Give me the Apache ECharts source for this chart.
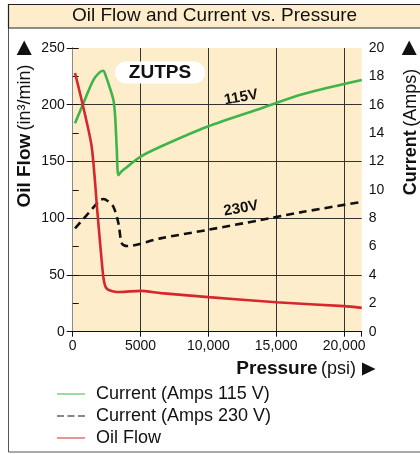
<!DOCTYPE html>
<html>
<head>
<meta charset="utf-8">
<script src="https://cdn.jsdelivr.net/npm/echarts@6/dist/echarts.min.js"></script>
<style>
html,body{margin:0;padding:0;background:#fff;}
#c{width:420px;height:454px;}
</style>
</head>
<body>
<div id="c"></div>
<script>
// ---- Data ----
const xTicks = [0, 5000, 10000, 15000, 20000];
const xTickLabels = ['0', '5000', '10,000', '15,000', '20,000'];
const flowTicks = [0, 50, 100, 150, 200, 250];
const ampTicks = [0, 2, 4, 6, 8, 10, 12, 14, 16, 18, 20];

const seriesNames = ['Current (Amps 115 V)', 'Current (Amps 230 V)', 'Oil Flow'];

// Oil flow (in3/min) vs pressure (psi)
const oilP    = [170, 740, 1400, 1830, 2140, 2260, 2400, 2600, 3000, 3500, 5000, 6500, 10000, 15000, 20000, 21300];
const oilFlow = [228, 200, 163, 104, 62, 48, 40, 37, 35.5, 35, 36, 34, 30.5, 26, 22.5, 21];

// Current 115 V (Amps)
const a115P = [170, 785, 1520, 2000, 2260, 2450, 2630, 3000, 3130, 3250, 3370, 3600, 3990, 4980, 6460, 9910, 13850, 17000, 21300];
const a115  = [14.69, 16.1, 17.74, 18.3, 18.4, 18.0, 17.5, 16.33, 15.15, 12.8, 11.04, 11.3, 11.6, 12.33, 13.04, 14.45, 15.74, 16.75, 17.74];

// Current 230 V (Amps)
const a230P = [170, 1035, 2020, 2260, 2600, 3000, 3370, 3620, 3990, 6460, 9910, 13850, 17000, 21300];
const a230  = [7.29, 8.22, 9.28, 9.35, 9.2, 8.81, 7.64, 6.23, 6.04, 6.58, 7.17, 7.87, 8.45, 9.15];

const zip = (xs, ys) => xs.map((x, i) => [x, ys[i]]);

const BEIGE = '#feedcb';
const GREEN = '#3db54a';
const RED = '#d6262e';
const FONT = '"Liberation Sans", Arial, Helvetica, sans-serif';
const NARROW = '"Liberation Sans Narrow", "Liberation Sans", Arial, sans-serif';

const SOLID_ICON = 'path://M0,0h28v1h-28z';
const DASH_ICON = 'path://M0,0h7v1h-7z M10.5,0h7v1h-7z M21,0h7v1h-7z';

const chart = echarts.init(document.getElementById('c'), null, {renderer: 'canvas'});

const option = {
  animation: false,
  backgroundColor: '#fff',
  title: {
    text: 'Oil Flow and Current vs. Pressure',
    left: 72,
    top: 6,
    padding: 0,
    z: 10,
    textStyle: {fontFamily: FONT, fontSize: 19, fontWeight: 'normal', color: '#111'}
  },
  grid: {
    left: 72.7, right: 58.3, top: 48, bottom: 122.3,
    show: true, backgroundColor: BEIGE, borderWidth: 0
  },
  legend: {
    orient: 'vertical',
    left: 57, top: 385, padding: 0,
    itemWidth: 28, itemHeight: 2.5, itemGap: 4,
    data: [
      {name: seriesNames[0], icon: SOLID_ICON},
      {name: seriesNames[1], icon: DASH_ICON},
      {name: seriesNames[2], icon: SOLID_ICON}
    ],
    textStyle: {fontFamily: FONT, fontSize: 18, color: '#111', padding: [0, 0, 0, 6], lineHeight: 18}
  },
  xAxis: [{
    type: 'value', min: 0, max: 21300, interval: 5000,
    axisLine: {show: true, lineStyle: {color: '#111', width: 1}},
    axisTick: {show: true, length: 5, lineStyle: {color: '#111'}},
    axisLabel: {
      margin: 7, fontFamily: NARROW, fontSize: 14, color: '#111',
      formatter: v => { const i = xTicks.indexOf(v); return i >= 0 ? xTickLabels[i] : ''; }
    },
    splitLine: {show: true, showMinLine: false, showMaxLine: false, lineStyle: {color: '#333', width: 1}}
  }, {
    type: 'value', min: 0, max: 21300, position: 'top',
    axisLine: {show: true, lineStyle: {color: '#111', width: 1}},
    axisTick: {show: false}, axisLabel: {show: false}, splitLine: {show: false}
  }],
  yAxis: [{
    type: 'value', min: 0, max: 250, interval: 50, position: 'left',
    axisLine: {show: true, lineStyle: {color: '#111', width: 1}},
    axisTick: {show: true, length: 6, lineStyle: {color: '#111'}},
    axisLabel: {
      margin: 8, fontFamily: NARROW, fontSize: 14, color: '#111',
      formatter: v => flowTicks.includes(v) ? String(v) : ''
    },
    splitLine: {show: true, showMinLine: false, showMaxLine: false, lineStyle: {color: '#333', width: 1}}
  }, {
    type: 'value', min: 0, max: 20, interval: 2, position: 'right',
    axisLine: {show: true, lineStyle: {color: '#8a8a8a', width: 1}},
    axisTick: {show: true, length: 6, lineStyle: {color: '#111'}},
    axisLabel: {
      margin: 7, fontFamily: NARROW, fontSize: 14, color: '#111',
      formatter: v => ampTicks.includes(v) ? String(v) : ''
    },
    splitLine: {show: false}
  }],
  series: [{
    name: seriesNames[0], type: 'line', yAxisIndex: 1, symbol: 'none', smooth: 0.3,
    lineStyle: {color: GREEN, width: 2.6}, itemStyle: {color: GREEN},
    data: zip(a115P, a115)
  }, {
    name: seriesNames[1], type: 'line', yAxisIndex: 1, symbol: 'none', smooth: 0.3,
    lineStyle: {color: '#111', width: 2.6, type: [8, 5]}, itemStyle: {color: '#111'},
    data: zip(a230P, a230)
  }, {
    name: seriesNames[2], type: 'line', yAxisIndex: 0, symbol: 'none', smooth: 0.25,
    lineStyle: {color: RED, width: 2.6}, itemStyle: {color: RED},
    data: zip(oilP, oilFlow)
  }],
  graphic: [
    // outer frame
    {type: 'rect', z: 0, silent: true, shape: {x: 8.5, y: 4.5, width: 430, height: 447.5},
     style: {fill: 'none', stroke: '#555', lineWidth: 1}},
    // title band
    {type: 'rect', z: 1, silent: true, shape: {x: 8.5, y: 4.5, width: 430, height: 23.5},
     style: {fill: BEIGE, stroke: '#222', lineWidth: 1.2}},
    // up triangles
    {type: 'polygon', z: 5, shape: {points: [[16.7, 55], [24.2, 40.5], [31.7, 55]]}, style: {fill: '#111'}},
    {type: 'polygon', z: 5, shape: {points: [[401.7, 55], [409.2, 40.5], [416.7, 55]]}, style: {fill: '#111'}},
    // right triangle after Pressure
    {type: 'polygon', z: 5, shape: {points: [[362, 362.5], [375.5, 369], [362, 375.5]]}, style: {fill: '#111'}},
    // left axis name
    {type: 'text', z: 5, x: 25, y: 136, rotation: Math.PI / 2,
     style: {text: '{b|Oil Flow} {r|(in³/min)}', align: 'center', verticalAlign: 'middle',
       rich: {b: {fontFamily: FONT, fontSize: 19, fontWeight: 'bold', fill: '#111'},
              r: {fontFamily: FONT, fontSize: 18, fill: '#111'}}}},
    // right axis name
    {type: 'text', z: 5, x: 411, y: 132, rotation: Math.PI / 2,
     style: {text: '{b|Current} {r|(Amps)}', align: 'center', verticalAlign: 'middle',
       rich: {b: {fontFamily: FONT, fontSize: 18, fontWeight: 'bold', fill: '#111'},
              r: {fontFamily: FONT, fontSize: 18, fill: '#111'}}}},
    // x axis name
    {type: 'text', z: 5, x: 356, y: 369,
     style: {text: '{b|Pressure} {r|(psi)}', align: 'right', verticalAlign: 'middle',
       rich: {b: {fontFamily: FONT, fontSize: 19, fontWeight: 'bold', fill: '#111'},
              r: {fontFamily: FONT, fontSize: 18, fill: '#111'}}}},
    // ZUTPS pill
    {type: 'rect', z: 50, shape: {x: 115, y: 61.5, width: 90, height: 22, r: 11},
     style: {fill: '#fff'}},
    {type: 'text', z: 51, x: 160, y: 72.5,
     style: {text: 'ZUTPS', align: 'center', verticalAlign: 'middle',
       fontFamily: FONT, fontSize: 19, fontWeight: 'bold', fill: '#111'}},
    // series labels
    {type: 'text', z: 51, x: 241, y: 97.5, rotation: 10 * Math.PI / 180,
     style: {text: '115V', align: 'center', verticalAlign: 'middle',
       fontFamily: FONT, fontSize: 15, fontWeight: 'bold', fill: '#111'}},
    {type: 'text', z: 51, x: 241, y: 208.5, rotation: 10 * Math.PI / 180,
     style: {text: '230V', align: 'center', verticalAlign: 'middle',
       fontFamily: FONT, fontSize: 15, fontWeight: 'bold', fill: '#111'}}
  ]
};

chart.setOption(option);
</script>
</body>
</html>
